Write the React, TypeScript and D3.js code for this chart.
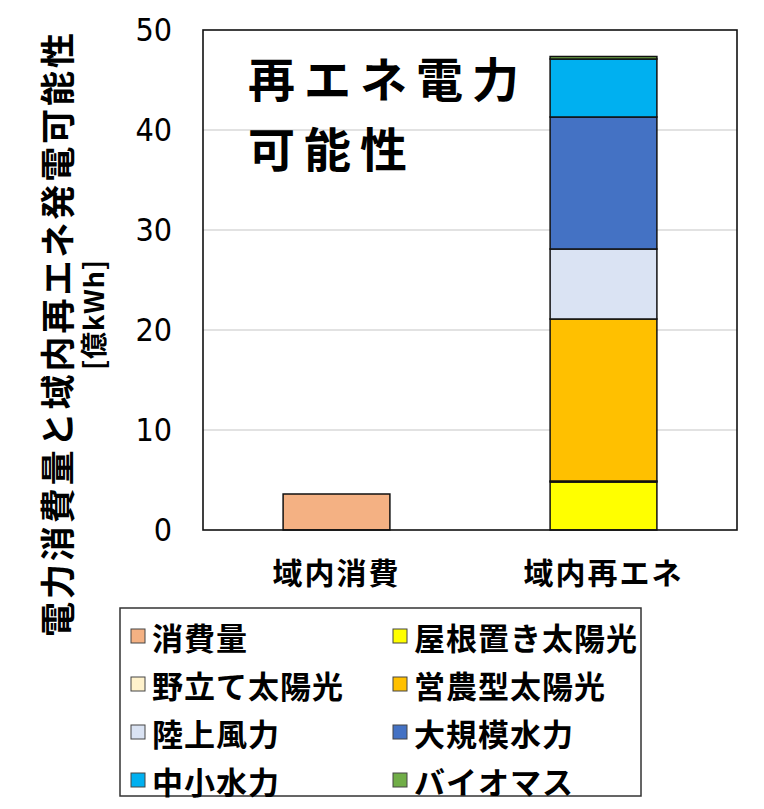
import * as d3 from 'd3';

// categories on the x axis
const categories = ['域内消費', '域内再エネ'];

// series (stack order, bottom to top)
const seriesNames = [
  '消費量',
  '屋根置き太陽光',
  '野立て太陽光',
  '営農型太陽光',
  '陸上風力',
  '大規模水力',
  '中小水力',
  'バイオマス',
];
const consumption = [3.6, 0];
const rooftopSolar = [0, 4.8];
const groundSolar = [0, 0.1];
const agriSolar = [0, 16.2];
const onshoreWind = [0, 7.0];
const largeHydro = [0, 13.2];
const smallHydro = [0, 5.8];
const biomass = [0, 0.25];

const yTicks = [0, 10, 20, 30, 40, 50];
const gridTicks = [10, 20, 30, 40];

const colors = ['#F4B183', '#FFFF00', '#FFF2CC', '#FFC000', '#DAE3F3', '#4472C4', '#00B0F0', '#70AD47'];

const seriesValues = [consumption, rooftopSolar, groundSolar, agriSolar, onshoreWind, largeHydro, smallHydro, biomass];

const W = 764;
const H = 809;
const margin = { top: 30, right: 27, bottom: 279, left: 203 };
const innerW = W - margin.left - margin.right;
const innerH = H - margin.top - margin.bottom;

const jp = '"Noto Sans CJK JP", "Noto Sans", sans-serif';

const App = () => {
  // table for d3.stack
  const table = categories.map((c, i) => {
    const row: any = { category: c };
    seriesNames.forEach((s, j) => {
      row[s] = seriesValues[j][i];
    });
    return row;
  });
  const stacked = d3.stack().keys(seriesNames)(table);

  const x = d3.scaleBand().domain(categories).range([0, innerW]).paddingInner(0.6).paddingOuter(0.3);
  const y = d3.scaleLinear().domain([0, 50]).range([innerH, 0]);

  // legend layout: 2 columns, row-major
  const legendX = 120;
  const legendY = 608;
  const legendW = 521;
  const legendH = 188;
  const rowH = 48;
  const colX = [11, 273];

  return (
    <svg
      width={W}
      height={H}
      style={{ position: 'absolute', left: 0, top: 0, background: '#fff' }}
    >
      <g transform={`translate(${margin.left},${margin.top})`}>
        {/* grid */}
        {gridTicks.map((t) => (
          <line key={t} x1={0} x2={innerW} y1={y(t)} y2={y(t)} stroke="#D9D9D9" strokeWidth={1.5} />
        ))}

        {/* bars */}
        {stacked.map((layer, j) =>
          layer.map((d, i) => {
            if (d[1] - d[0] <= 0) return null;
            const cat = categories[i];
            return (
              <rect
                key={`${j}-${i}`}
                x={x(cat)}
                width={x.bandwidth()}
                y={y(d[1])}
                height={y(d[0]) - y(d[1])}
                fill={colors[j]}
                stroke="#111"
                strokeWidth={1.5}
              />
            );
          })
        )}

        {/* frame */}
        <rect x={0} y={0} width={innerW} height={innerH} fill="none" stroke="#111" strokeWidth={1.6} />

        {/* y tick labels */}
        {yTicks.map((t) => (
          <text
            key={t}
            x={-31}
            y={y(t)}
            textAnchor="end"
            dominantBaseline="central"
            fontFamily='"DejaVu Sans Condensed", "Liberation Sans", sans-serif'
            fontSize={32}
            fill="#000"
          >
            {t}
          </text>
        ))}

        {/* x category labels */}
        {categories.map((c) => (
          <text
            key={c}
            x={(x(c) || 0) + x.bandwidth() / 2}
            y={innerH + 41}
            textAnchor="middle"
            dominantBaseline="central"
            fontFamily={jp}
            fontWeight={700}
            fontSize={30}
            letterSpacing={2}
            fill="#000"
          >
            {c}
          </text>
        ))}

        {/* in-plot title */}
        <text
          x={45}
          y={46}
          dominantBaseline="central"
          fontFamily={jp}
          fontWeight={700}
          fontSize={47}
          letterSpacing={9}
          fill="#000"
        >
          再エネ電力
        </text>
        <text
          x={45}
          y={116}
          dominantBaseline="central"
          fontFamily={jp}
          fontWeight={700}
          fontSize={47}
          letterSpacing={9}
          fill="#000"
        >
          可能性
        </text>
      </g>

      {/* y axis title */}
      <g transform="translate(55,335) rotate(-90)">
        <text
          x={0}
          y={0}
          textAnchor="middle"
          dominantBaseline="central"
          fontFamily={jp}
          fontWeight={700}
          fontSize={35}
          textLength={604}
          lengthAdjust="spacing"
          fill="#000"
        >
          電力消費量と域内再エネ発電可能性
        </text>
      </g>
      <g transform="translate(92,315) rotate(-90)">
        <text
          x={0}
          y={0}
          textAnchor="middle"
          dominantBaseline="central"
          fontFamily={jp}
          fontWeight={700}
          fontSize={27}
          textLength={110}
          lengthAdjust="spacing"
          fill="#000"
        >
          [億kWh]
        </text>
      </g>

      {/* legend */}
      <g transform={`translate(${legendX},${legendY})`}>
        <rect x={0} y={0} width={legendW} height={legendH} fill="#fff" stroke="#333" strokeWidth={1.5} />
        {seriesNames.map((s, k) => {
          const col = k % 2;
          const row = Math.floor(k / 2);
          const cy = 28 + row * rowH;
          return (
            <g key={s} transform={`translate(${colX[col]},${cy})`}>
              <rect x={0} y={-7} width={14} height={14} fill={colors[k]} stroke="#444" strokeWidth={1} />
              <text
                x={21}
                y={0}
                dominantBaseline="central"
                fontFamily={jp}
                fontWeight={700}
                fontSize={31}
                letterSpacing={1}
                fill="#000"
              >
                {s}
              </text>
            </g>
          );
        })}
      </g>
    </svg>
  );
};

export default App;
